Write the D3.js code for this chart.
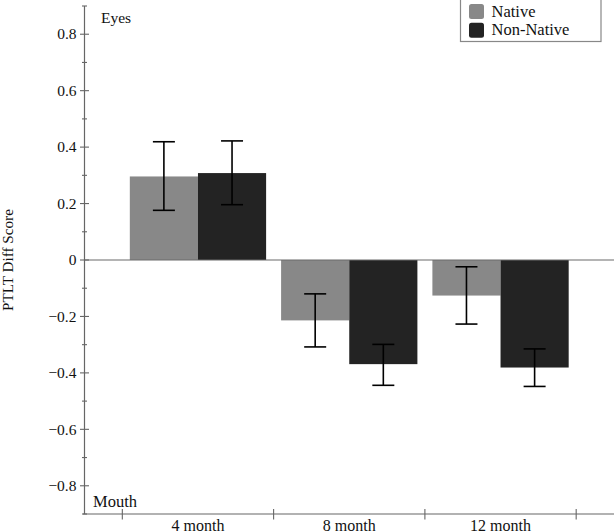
<!DOCTYPE html>
<html><head><meta charset="utf-8">
<script src="https://cdn.jsdelivr.net/npm/d3@7/dist/d3.min.js"></script>
<style>
html,body{margin:0;padding:0;background:#fff;}
svg{display:block;font-family:"Liberation Serif","Times New Roman",serif;}
</style></head>
<body>
<script>
const categories = ["4 month", "8 month", "12 month"];
const seriesNames = ["Native", "Non-Native"];
const nativeValues = [0.296, -0.214, -0.126];
const nativeErrLow = [0.176, -0.308, -0.227];
const nativeErrHigh = [0.419, -0.120, -0.024];
const nonNativeValues = [0.308, -0.369, -0.381];
const nonNativeErrLow = [0.196, -0.444, -0.448];
const nonNativeErrHigh = [0.422, -0.299, -0.315];
const majorTicks = [-0.8, -0.6, -0.4, -0.2, 0, 0.2, 0.4, 0.6, 0.8];
const minorTicks = [-0.9, -0.7, -0.5, -0.3, -0.1, 0.1, 0.3, 0.5, 0.7, 0.9];
const colors = ["#888888", "#232323"];

const W = 614, H = 532;
const svg = d3.select("body").append("svg").attr("width", W).attr("height", H);

const axisX = 84.5;
const y = d3.scaleLinear().domain([-0.9, 0.9]).range([514, 6]);
const x = d3.scaleBand().domain(categories).range([axisX, 614]).paddingInner(0).paddingOuter(0.25);
const xs = d3.scaleBand().domain(seriesNames).range([0, x.bandwidth()]).paddingInner(0).paddingOuter(0.11);

const series = [
  {name: seriesNames[0], values: nativeValues, lo: nativeErrLow, hi: nativeErrHigh, color: colors[0]},
  {name: seriesNames[1], values: nonNativeValues, lo: nonNativeErrLow, hi: nonNativeErrHigh, color: colors[1]}
];

// bars
series.forEach(s => {
  svg.append("g").selectAll("rect").data(categories).join("rect")
    .attr("x", (c) => x(c) + xs(s.name))
    .attr("width", xs.bandwidth())
    .attr("y", (c, i) => Math.min(y(s.values[i]), y(0)))
    .attr("height", (c, i) => Math.abs(y(s.values[i]) - y(0)))
    .attr("fill", s.color);
});

// zero line
svg.append("line").attr("x1", axisX).attr("x2", 614).attr("y1", y(0)).attr("y2", y(0))
  .attr("stroke", "#6a6a6a").attr("stroke-width", 1.2);

// error bars
const capW = 22;
series.forEach(s => {
  const g = svg.append("g").attr("stroke", "#000").attr("stroke-width", 1.6);
  categories.forEach((c, i) => {
    const cx = x(c) + xs(s.name) + xs.bandwidth() / 2;
    g.append("line").attr("x1", cx).attr("x2", cx).attr("y1", y(s.lo[i])).attr("y2", y(s.hi[i]));
    g.append("line").attr("x1", cx - capW / 2).attr("x2", cx + capW / 2).attr("y1", y(s.lo[i])).attr("y2", y(s.lo[i]));
    g.append("line").attr("x1", cx - capW / 2).attr("x2", cx + capW / 2).attr("y1", y(s.hi[i])).attr("y2", y(s.hi[i]));
  });
});

// y axis
const yAxisG = svg.append("g").attr("transform", `translate(${axisX},0)`);
yAxisG.append("line").attr("x1", 0).attr("x2", 0).attr("y1", y(0.9)).attr("y2", y(-0.9))
  .attr("stroke", "#666").attr("stroke-width", 1.2);
yAxisG.selectAll("line.maj").data(majorTicks).join("line").attr("class", "maj")
  .attr("x1", -4.5).attr("x2", 4.5).attr("y1", d => y(d)).attr("y2", d => y(d))
  .attr("stroke", "#666").attr("stroke-width", 1.1);
yAxisG.selectAll("line.min").data(minorTicks).join("line").attr("class", "min")
  .attr("x1", -2.5).attr("x2", 2.5).attr("y1", d => y(d)).attr("y2", d => y(d))
  .attr("stroke", "#666").attr("stroke-width", 1.1);
const fmt = d => d === 0 ? "0" : (d < 0 ? "\u2212" : "") + Math.abs(d).toFixed(1);
yAxisG.selectAll("text").data(majorTicks).join("text")
  .attr("x", -8).attr("y", d => y(d)).attr("dy", "0.34em")
  .attr("text-anchor", "end").attr("font-size", "15.5px").attr("fill", "#111")
  .text(fmt);

// x axis
const xAxisG = svg.append("g");
xAxisG.append("line").attr("x1", axisX - 1.5).attr("x2", 614).attr("y1", y(-0.9)).attr("y2", y(-0.9))
  .attr("stroke", "#666").attr("stroke-width", 1.2);
const boundaries = categories.map(c => x(c)).concat([x(categories[categories.length - 1]) + x.bandwidth()]);
xAxisG.selectAll("line.t").data(boundaries).join("line").attr("class", "t")
  .attr("x1", d => d).attr("x2", d => d).attr("y1", y(-0.9) - 5).attr("y2", y(-0.9) + 5.5)
  .attr("stroke", "#666").attr("stroke-width", 1.1);
xAxisG.selectAll("text").data(categories).join("text")
  .attr("x", c => x(c) + x.bandwidth() / 2).attr("y", 530.5)
  .attr("text-anchor", "middle").attr("font-size", "16px").attr("fill", "#111")
  .text(c => c);

// annotations
svg.append("text").attr("x", 101).attr("y", 23).attr("font-size", "15.5px").attr("fill", "#111").text("Eyes");
svg.append("text").attr("x", 93).attr("y", 507).attr("font-size", "16.5px").attr("fill", "#111").text("Mouth");

// y label
svg.append("text").attr("transform", `translate(13,${y(0)}) rotate(-90)`)
  .attr("text-anchor", "middle").attr("font-size", "15.2px").attr("fill", "#111")
  .text("PTLT Diff Score");

// legend
const lg = svg.append("g");
lg.append("rect").attr("x", 460.5).attr("y", -2).attr("width", 140.5).attr("height", 43.5)
  .attr("fill", "#fff").attr("stroke", "#888").attr("stroke-width", 1.2);
series.forEach((s, i) => {
  lg.append("rect").attr("x", 469).attr("y", 4 + i * 18.7).attr("width", 15).attr("height", 15)
    .attr("rx", 2.5).attr("fill", s.color);
  lg.append("text").attr("x", 491.5).attr("y", 16.8 + i * 18.3).attr("font-size", "16.5px").attr("fill", "#111")
    .text(s.name);
});
</script>
</body></html>
